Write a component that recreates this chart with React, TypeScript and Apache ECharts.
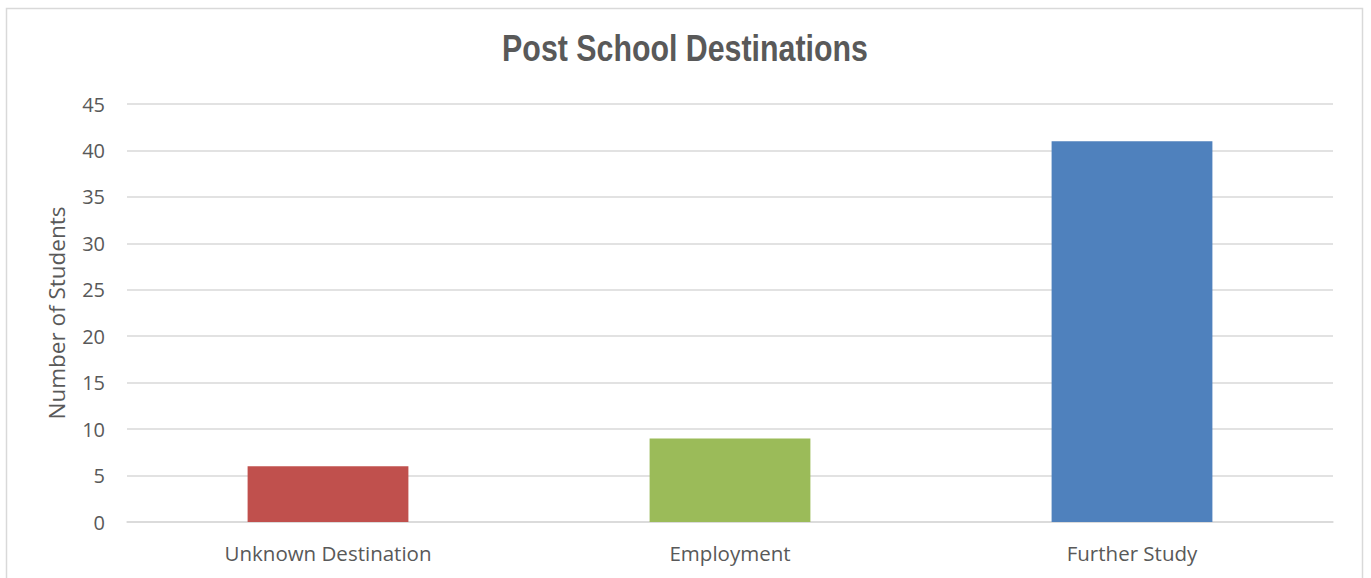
import React, { useEffect, useRef } from "react";
import * as echarts from "echarts";

const categories = ["Unknown Destination", "Employment", "Further Study"];
const values = [6, 9, 41];
const barColors = ["#C0504D", "#9BBB59", "#4F81BD"];
const yTicks = { min: 0, max: 45, interval: 5 };
const titleText = "Post School Destinations";
const yAxisTitle = "Number of Students";

export default function App() {
  const ref = useRef<HTMLDivElement>(null);
  useEffect(() => {
    if (!ref.current) return;
    const chart = echarts.init(ref.current, undefined, { renderer: "svg" });
    chart.setOption({
      animation: false,
      backgroundColor: "#ffffff",
      graphic: [
        {
          type: "rect",
          shape: { x: 6.5, y: 8.5, width: 1356, height: 620 },
          style: { fill: "none", stroke: "#D9D9D9", lineWidth: 1.5 },
          silent: true,
        },
        {
          type: "text",
          x: 685,
          y: 48,
          scaleX: 0.82,
          style: {
            text: titleText,
            x: 0,
            y: 0,
            textAlign: "center",
            textVerticalAlign: "middle",
            fontFamily: "Liberation Sans",
            fontWeight: "bold",
            fontSize: 37,
            fill: "#595959",
          },
          silent: true,
        },
      ],
      grid: { left: 127, right: 38, top: 104, bottom: 56, containLabel: false },
      xAxis: {
        type: "category",
        data: categories,
        axisLine: { show: true, lineStyle: { color: "#D9D9D9", width: 1.5 } },
        axisTick: { show: false },
        axisLabel: {
          color: "#595959",
          fontFamily: "Open Sans",
          fontSize: 20.5,
          margin: 20,
        },
      },
      yAxis: {
        type: "value",
        min: yTicks.min,
        max: yTicks.max,
        interval: yTicks.interval,
        name: yAxisTitle,
        nameLocation: "middle",
        nameGap: 59,
        nameTextStyle: {
          color: "#595959",
          fontFamily: "Open Sans",
          fontSize: 22.5,
        },
        axisLine: { show: false },
        axisTick: { show: false },
        splitLine: { lineStyle: { color: "#D9D9D9", width: 1.5 } },
        axisLabel: {
          color: "#595959",
          fontFamily: "Open Sans",
          fontSize: 20,
          margin: 22,
        },
      },
      series: [
        {
          type: "bar",
          data: values.map((v, i) => ({ value: v, itemStyle: { color: barColors[i] } })),
          barWidth: "40%",
        },
      ],
    });
    return () => chart.dispose();
  }, []);
  return (
    <div
      ref={ref}
      style={{ position: "absolute", left: 0, top: 0, width: 1371, height: 578 }}
    />
  );
}
